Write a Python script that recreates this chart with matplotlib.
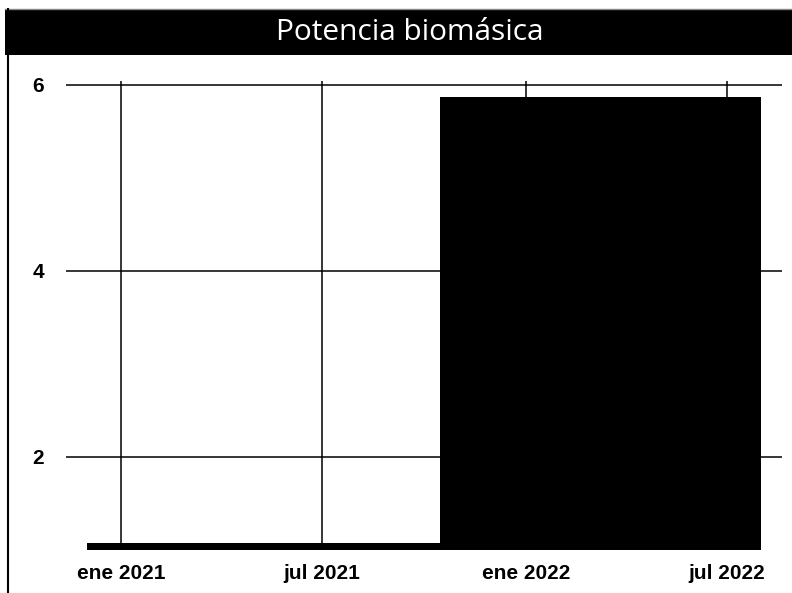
import matplotlib
matplotlib.use("Agg")
import matplotlib.pyplot as plt
import matplotlib.dates as mdates
from matplotlib.patches import Rectangle
from matplotlib.lines import Line2D
import numpy as np

# Potencia biomásica por periodo (cada barra cubre un intervalo de fechas)
inicio = ["2020-12-01", "2021-10-15"]
fin = ["2021-10-15", "2022-08-01"]
potencia = [1.07, 5.87]

ticks_x = ["2021-01-01", "2021-07-01", "2022-01-01", "2022-07-01"]
etiquetas_x = ["ene 2021", "jul 2021", "ene 2022", "jul 2022"]
ticks_y = [2, 4, 6]

titulo = "Potencia biomásica"

fig = plt.figure(figsize=(7.92, 5.93), dpi=100)
ax = fig.add_axes([66 / 792, 43 / 593, 716 / 792, 469 / 593])

x0 = mdates.datestr2num(inicio)
x1 = mdates.datestr2num(fin)
ax.bar(x0, potencia, width=x1 - x0, align="edge", color="black", zorder=1)

ax.set_xlim(mdates.datestr2num("2020-11-12"), mdates.datestr2num("2022-08-20"))
ax.set_ylim(1.0, 6.043)

ax.set_xticks(mdates.datestr2num(ticks_x))
ax.set_xticklabels(etiquetas_x)
ax.set_yticks(ticks_y)
ax.set_yticklabels([str(v) for v in ticks_y])

for lbl in ax.get_xticklabels() + ax.get_yticklabels():
    lbl.set_fontfamily("Liberation Sans")
    lbl.set_fontweight("bold")
    lbl.set_fontsize(15)

ax.tick_params(axis="both", length=0)
ax.tick_params(axis="x", pad=10)
ax.tick_params(axis="y", pad=16)
ax.grid(True, color="black", linewidth=1.1, zorder=0)
ax.set_axisbelow(True)
for s in ax.spines.values():
    s.set_visible(False)

# barra negra del título
fig.patches.append(Rectangle((5 / 792, 538 / 593), 787 / 792, 45 / 593,
                             transform=fig.transFigure, facecolor="black",
                             edgecolor="none"))
fig.lines.append(Line2D([5 / 792, 1], [584 / 593, 584 / 593],
                        transform=fig.transFigure, color="#888888", linewidth=1))
fig.lines.append(Line2D([8 / 792, 8 / 792], [0, 584 / 593],
                        transform=fig.transFigure, color="black", linewidth=1.5))
fig.text(410 / 792, 561 / 593, titulo, color="white", fontsize=21.5,
         family="Open Sans", ha="center", va="center")

fig.savefig("out.png", dpi=100)
